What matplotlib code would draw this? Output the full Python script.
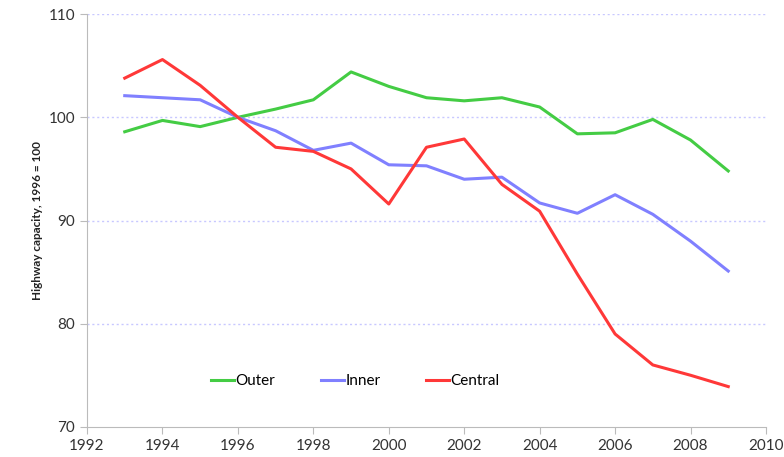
import numpy as np
import matplotlib.pyplot as plt

years = list(range(1993, 2010))
outer = [98.6, 99.7, 99.1, 100.0, 100.8, 101.7, 104.4, 103.0, 101.9, 101.6, 101.9, 101.0, 98.4, 98.5, 99.8, 97.8, 94.8]
inner = [102.1, 101.9, 101.7, 100.0, 98.7, 96.8, 97.5, 95.4, 95.3, 94.0, 94.2, 91.7, 90.7, 92.5, 90.6, 88.0, 85.1]
central = [103.8, 105.6, 103.1, 100.0, 97.1, 96.7, 95.0, 91.6, 97.1, 97.9, 93.5, 90.9, 84.8, 79.0, 76.0, 75.0, 73.9]

plt.rcParams['font.family'] = ['Lato', 'DejaVu Sans']

fig = plt.figure(figsize=(7.84, 4.57), dpi=100)
ax = fig.add_axes([0.111, 0.066, 0.866, 0.903])

ax.plot(years, outer, color='#44cc44', lw=2.2, label='Outer')
ax.plot(years, inner, color='#8080ff', lw=2.2, label='Inner')
ax.plot(years, central, color='#ff3838', lw=2.2, label='Central')

ax.set_xlim(1992, 2010)
ax.set_ylim(70, 110)
ax.set_xticks(range(1992, 2011, 2))
ax.set_yticks([70, 80, 90, 100, 110])
for y in [80, 90, 100, 110]:
    ax.axhline(y, color='#c8c8ff', lw=1, ls=(0, (1.5, 2)), zorder=0)

for s in ['top', 'right']:
    ax.spines[s].set_visible(False)
for s in ['left', 'bottom']:
    ax.spines[s].set_color('#bbbbbb')
ax.tick_params(colors='#bbbbbb', labelcolor='#333333', labelsize=11, length=5)

ax.set_ylabel('Highway capacity, 1996 = 100', fontsize=8.5, fontweight='bold', color='#222222')

ax.legend(loc='lower center', bbox_to_anchor=(0.395, 0.06), ncol=3, frameon=False,
          handlelength=1.5, handletextpad=0.1, columnspacing=3.0, fontsize=11)

plt.savefig('out.png', dpi=100)
